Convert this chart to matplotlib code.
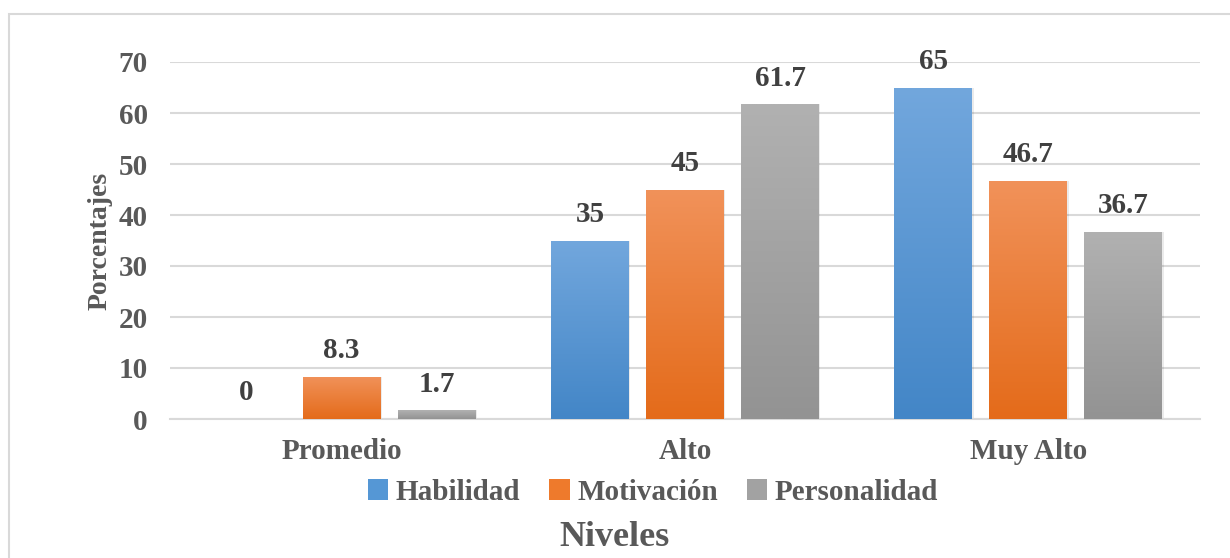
import numpy as np
import matplotlib
matplotlib.use("Agg")
import matplotlib.pyplot as plt
from matplotlib.colors import LinearSegmentedColormap
from matplotlib.patches import Rectangle

niveles = ["Promedio", "Alto", "Muy Alto"]
series = ["Habilidad", "Motivación", "Personalidad"]
habilidad = [0, 35, 65]
motivacion = [8.3, 45, 46.7]
personalidad = [1.7, 61.7, 36.7]
yticks = [0, 10, 20, 30, 40, 50, 60, 70]

# top / bottom colours of each gradient fill
grads = [("#72a7dd", "#4386c7"), ("#f1925a", "#e46b1a"), ("#b1b1b1", "#939393")]
legend_cols = ["#5597d5", "#ee7a2c", "#a2a2a2"]

plt.rcParams["font.family"] = ["Liberation Serif", "DejaVu Serif"]
plt.rcParams["font.weight"] = "bold"

fig = plt.figure(figsize=(12.3, 5.58), dpi=100)
ax = fig.add_axes([170 / 1230, 1 - 419 / 558, 1030 / 1230, 357 / 558])

# light frame round the chart
fig.patches.append(Rectangle((9 / 1230, -0.1), 1.2, 1.1 - 14 / 558, transform=fig.transFigure,
                             fill=False, edgecolor="#d9d9d9", linewidth=1.5))

x = np.arange(len(niveles))
width = 0.227
step = 0.277
grad = np.linspace(0, 1, 256).reshape(-1, 1)

for i, (vals, name) in enumerate(zip([habilidad, motivacion, personalidad], series)):
    cmap = LinearSegmentedColormap.from_list(name, [grads[i][1], grads[i][0]])
    xs = x + (i - 1) * step
    bars = ax.bar(xs, vals, width, color=grads[i][1], label=name, zorder=3)
    for b, v in zip(bars, vals):
        b.set_facecolor("none")
        b.set_edgecolor("none")
        if v > 0:
            # soft shadow on the right side
            ax.add_patch(Rectangle((b.get_x() + 0.004, 0), b.get_width(), v,
                                   facecolor="#000000", alpha=0.08, zorder=2.5, linewidth=0))
            im = ax.imshow(grad, cmap=cmap, origin="lower", aspect="auto",
                           extent=[b.get_x(), b.get_x() + b.get_width(), 0, v], zorder=3)
            im.set_clip_path(b)
        ax.text(b.get_x() + b.get_width() / 2, v + 2.5, f"{v:g}", ha="center", va="bottom",
                fontsize=21, fontweight="bold", color="#404040")

ax.set_xlim(-0.5, 2.5)
ax.set_ylim(0, 70)
ax.set_yticks(yticks)
ax.set_xticks(x)
ax.set_xticklabels(niveles)
ax.tick_params(axis="both", length=0, labelsize=21, labelcolor="#595959")
ax.tick_params(axis="y", pad=16)
ax.tick_params(axis="x", pad=14)
ax.grid(axis="y", color="#d9d9d9", linewidth=1.5, zorder=0)
ax.set_axisbelow(True)
for s in ["top", "right", "left"]:
    ax.spines[s].set_visible(False)
ax.spines["bottom"].set_color("#d9d9d9")
ax.spines["bottom"].set_linewidth(1.5)

ax.set_ylabel("Porcentajes", fontsize=20, fontweight="bold", color="#595959", labelpad=4)
fig.text(0.5, 1 - 538 / 558, "Niveles", ha="center", va="center",
         fontsize=26, fontweight="bold", color="#595959")

handles = [Rectangle((0, 0), 1, 1, facecolor=c, edgecolor="none") for c in legend_cols]
leg = fig.legend(handles, series, loc="center", bbox_to_anchor=(653 / 1230, 1 - 492 / 558),
                 ncol=3, frameon=False, fontsize=21, handlelength=0.7, handleheight=0.7,
                 handletextpad=0.25, columnspacing=1.0)
for t in leg.get_texts():
    t.set_color("#595959")

fig.savefig("out.png", dpi=100)
